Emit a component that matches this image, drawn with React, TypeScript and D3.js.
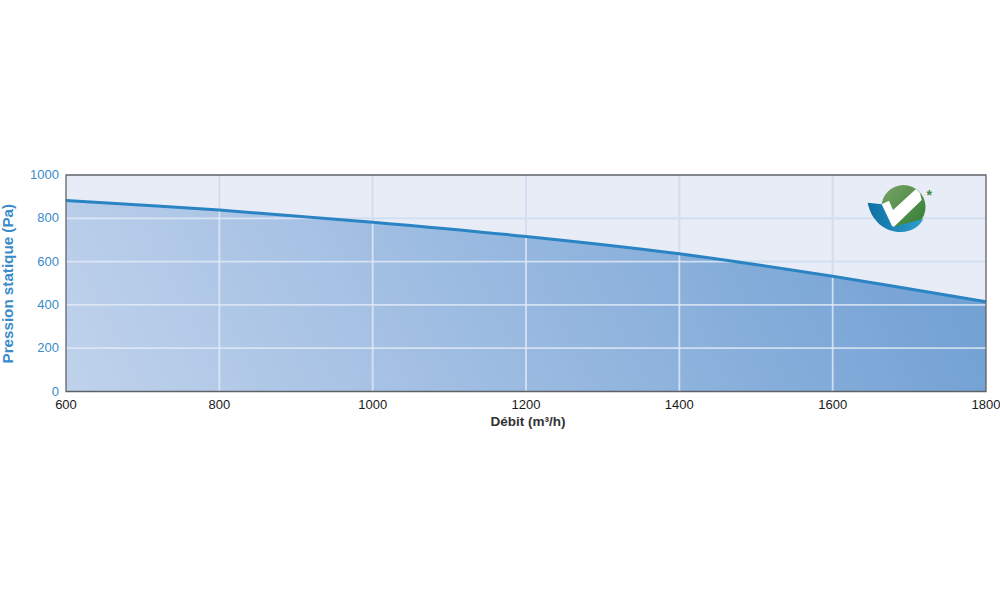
import React from 'react';
import * as d3 from 'd3';

const flowTicks = [600, 800, 1000, 1200, 1400, 1600, 1800];
const pressureTicks = [0, 200, 400, 600, 800, 1000];
const flow = [600, 800, 1000, 1200, 1400, 1600, 1800];
const pressure = [882, 838, 782, 716, 636, 532, 415];

const width = 1000;
const height = 600;
const left = 66;
const right = 986;
const top = 175;
const bottom = 391.5;
const font = '"Liberation Sans", Arial, sans-serif';

const App = () => {
  const x = d3.scaleLinear().domain([600, 1800]).range([left, right]);
  const y = d3.scaleLinear().domain([0, 1000]).range([bottom, top]);
  const points = flow.map((f, i) => [f, pressure[i]] as [number, number]);

  const line = d3.line<[number, number]>()
    .x(d => x(d[0]))
    .y(d => y(d[1]))
    .curve(d3.curveCatmullRom);
  const area = d3.area<[number, number]>()
    .x(d => x(d[0]))
    .y0(y(0))
    .y1(d => y(d[1]))
    .curve(d3.curveCatmullRom);

  return (
    <svg
      width={width}
      height={height}
      viewBox={`0 0 ${width} ${height}`}
      style={{ position: 'absolute', left: 0, top: 0, fontFamily: font }}
    >
      <defs>
        <linearGradient id="fill" gradientUnits="userSpaceOnUse" x1={left + 60} y1={bottom + 120} x2={right - 60} y2={top - 60}>
          <stop offset="0" stopColor="#c0d2ec" />
          <stop offset="1" stopColor="#6f9fd3" />
        </linearGradient>
        <linearGradient id="green" x1="0" y1="0" x2="1" y2="1">
          <stop offset="0" stopColor="#7ba468" />
          <stop offset="1" stopColor="#2f7d32" />
        </linearGradient>
        <linearGradient id="teal" x1="0" y1="0" x2="1" y2="0">
          <stop offset="0" stopColor="#0f6fa5" />
          <stop offset="1" stopColor="#2ea0cd" />
        </linearGradient>
        <clipPath id="under">
          <path d={area(points) ?? ''} />
        </clipPath>
      </defs>

      <rect x={left} y={top} width={right - left} height={bottom - top} fill="#e7ecf7" />

      {/* grid above the curve */}
      {flowTicks.slice(1, -1).map(t => (
        <line key={t} x1={x(t)} x2={x(t)} y1={top} y2={bottom} stroke="#d3dff0" strokeWidth={2} />
      ))}
      {pressureTicks.slice(1, -1).map(t => (
        <line key={t} x1={left} x2={right} y1={y(t)} y2={y(t)} stroke="#d3dff0" strokeWidth={2} />
      ))}

      <path d={area(points) ?? ''} fill="url(#fill)" />

      {/* grid below the curve */}
      <g clipPath="url(#under)">
        {flowTicks.slice(1, -1).map(t => (
          <line key={t} x1={x(t)} x2={x(t)} y1={top} y2={bottom} stroke="#e3ebf6" strokeOpacity={0.8} strokeWidth={1.8} />
        ))}
        {pressureTicks.slice(1, -1).map(t => (
          <line key={t} x1={left} x2={right} y1={y(t)} y2={y(t)} stroke="#e3ebf6" strokeOpacity={0.8} strokeWidth={1.8} />
        ))}
      </g>

      <path d={line(points) ?? ''} fill="none" stroke="#2a84c4" strokeWidth={3} />

      <path
        d={`M${left} ${top}H${right}V${bottom}H${left}Z`}
        fill="none"
        stroke="#5f6368"
        strokeWidth={1.3}
      />

      {/* logo */}
      <g>
        <circle cx={903.5} cy={207} r={22} fill="url(#green)" />
        <path d="M867.7 202.7 L882 204.3 L894 226.7 L923.5 219 C919 227 911 232 901 232 C884 232 871 220 867.7 202.7Z" fill="url(#teal)" />
        <path d="M881.7 204.3 L889 200.7 L893 210 L916 189 L920 193 L921.7 200 L894 226.7 L892 226Z" fill="#ffffff" />
        <text x={926.5} y={200} fontSize={14} fontWeight="bold" fill="#3c8a3c">*</text>
      </g>

      {pressureTicks.map(t => (
        <text key={t} x={59} y={y(t) + 4} textAnchor="end" fontSize={13} fill="#3a8bca">{t}</text>
      ))}
      {flowTicks.map(t => (
        <text key={t} x={x(t)} y={409} textAnchor="middle" fontSize={13} fill="#1a1a1a">{t}</text>
      ))}

      <text x={528} y={426} textAnchor="middle" fontSize={13.5} fontWeight="bold" fill="#333333">Débit (m³/h)</text>
      <text
        transform={`translate(13,${(top + bottom) / 2 + 0.5}) rotate(-90)`}
        textAnchor="middle"
        fontSize={15.2}
        fontWeight="bold"
        fill="#3a8bca"
      >
        Pression statique (Pa)
      </text>
    </svg>
  );
};

export default App;
